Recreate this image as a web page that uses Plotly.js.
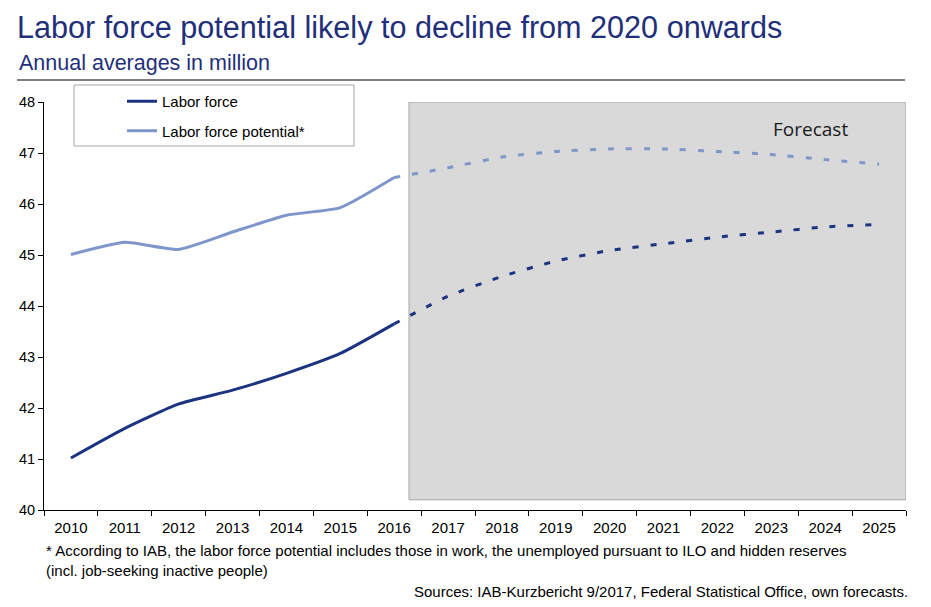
<!DOCTYPE html>
<html>
<head>
<meta charset="utf-8">
<script src="https://cdn.plot.ly/plotly-3.0.1.min.js"></script>
<style>html,body{margin:0;padding:0;background:#fff;}#chart{width:931px;height:607px;}</style>
</head>
<body>
<div id="chart"></div>
<script>
const years = ["2010","2011","2012","2013","2014","2015","2016","2017","2018","2019","2020","2021","2022","2023","2024","2025"];
const actualYears = ["2010","2011","2012","2013","2014","2015","2016"];
const forecastYears = ["2016","2017","2018","2019","2020","2021","2022","2023","2024","2025"];
const laborForceActual = [41.02, 41.60, 42.08, 42.35, 42.68, 43.07, 43.65];
const laborForceForecast = [43.65, 44.19, 44.58, 44.88, 45.09, 45.22, 45.35, 45.45, 45.55, 45.60];
const potentialActual = [45.01, 45.25, 45.11, 45.45, 45.78, 45.93, 46.52];
const potentialForecast = [46.52, 46.71, 46.92, 47.03, 47.08, 47.08, 47.03, 46.97, 46.87, 46.78];

const navy = "#1c3480";
const light = "#7f96cb";
const font = "Liberation Sans, Arial, sans-serif";

const traces = [
  {x: actualYears, y: laborForceActual, name: "Labor force", mode: "lines", legendgroup: "a",
   line: {color: navy, width: 3, shape: "spline", smoothing: 0.5}},
  {x: actualYears, y: potentialActual, name: "Labor force potential*", mode: "lines", legendgroup: "b",
   line: {color: light, width: 3, shape: "spline", smoothing: 0.5}},
  {x: forecastYears, y: laborForceForecast, name: "Labor force forecast", mode: "lines", showlegend: false,
   line: {color: navy, width: 3, dash: "6px,12px", shape: "spline", smoothing: 0.6}},
  {x: forecastYears, y: potentialForecast, name: "Potential forecast", mode: "lines", showlegend: false,
   line: {color: light, width: 3, dash: "6px,12px", shape: "spline", smoothing: 0.6}}
];

const layout = {
  width: 931, height: 607,
  margin: {l: 44, r: 25, t: 102, b: 97},
  paper_bgcolor: "#fff", plot_bgcolor: "#fff",
  font: {family: font, size: 15, color: "#000"},
  title: {text: "Labor force potential likely to decline from 2020 onwards",
          x: 17/931, xanchor: "left", xref: "container",
          y: 1 - 27/607, yanchor: "middle", yref: "container",
          font: {family: font, size: 30.6, color: "#1f2f7a"}},
  showlegend: true,
  legend: {x: (122-44)/862, xanchor: "left", y: 1.0417, yanchor: "top",
           bgcolor: "rgba(0,0,0,0)", borderwidth: 0,
           traceorder: "grouped", tracegroupgap: 7,
           font: {family: font, size: 15, color: "#000"}},
  xaxis: {type: "category", categoryorder: "array", categoryarray: years,
          range: [-0.5, 15.5], tickson: "boundaries", ticks: "outside", ticklen: 5,
          tickcolor: "#000", showline: true, linecolor: "#000", linewidth: 1,
          showgrid: false, zeroline: false, fixedrange: true, ticklabelstandoff: 4,
          tickfont: {family: font, size: 15, color: "#000"}},
  yaxis: {range: [40, 48], dtick: 1, ticks: "outside", ticklen: 5, tickcolor: "#000",
          showline: true, linecolor: "#000", linewidth: 1, showgrid: false, zeroline: false,
          tickfont: {family: font, size: 14.5, color: "#000"}},
  shapes: [
    {type: "rect", xref: "x", yref: "y", x0: 6.275, x1: 15.5, y0: 40.2, y1: 48,
     fillcolor: "#d9d9d9", line: {color: "#a6a6a6", width: 1}, layer: "below"},
    {type: "rect", xref: "paper", yref: "paper", x0: 30/862, x1: 310/862, y0: 1 + (102-146)/408, y1: 1 + (102-85)/408,
     fillcolor: "#fff", line: {color: "#a6a6a6", width: 1}, layer: "above"},
    {type: "line", xref: "paper", yref: "paper", x0: -27/862, x1: 861/862, y0: 430/408, y1: 430/408,
     line: {color: "#7f7f7f", width: 2}}
  ],
  annotations: [
    {text: "Annual averages in million", xref: "paper", yref: "paper", x: -27/862, y: (510-63)/408,
     xanchor: "left", yanchor: "middle", showarrow: false, font: {family: font, size: 21.5, color: "#1f2f7a"}},
    {text: "Forecast", xref: "paper", yref: "paper", x: (810-44)/862, y: (510-129)/408,
     xanchor: "center", yanchor: "middle", showarrow: false, font: {family: "Open Sans, sans-serif", size: 19, color: "#1a1a1a"}},
    {text: "* According to IAB, the labor force potential includes those in work, the unemployed pursuant to ILO and hidden reserves<br>(incl. job-seeking inactive people)",
     xref: "paper", yref: "paper", x: 0, y: (510-540)/408, xanchor: "left", yanchor: "top", align: "left",
     showarrow: false, font: {family: font, size: 15, color: "#000"}},
    {text: "Sources: IAB-Kurzbericht 9/2017, Federal Statistical Office, own forecasts.",
     xref: "paper", yref: "paper", x: (910-44)/862, y: (510-591)/408, xanchor: "right", yanchor: "middle",
     showarrow: false, font: {family: font, size: 15, color: "#000"}}
  ]
};

Plotly.newPlot("chart", traces, layout, {displayModeBar: false, staticPlot: true});
</script>
</body>
</html>
